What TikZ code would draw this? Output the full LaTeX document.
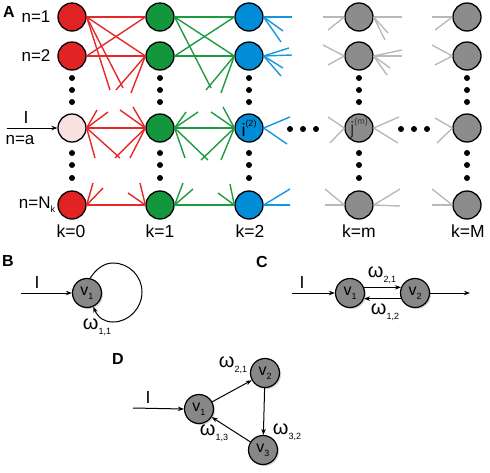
\documentclass[tikz,border=0pt]{standalone}
\usepackage{fontspec}
\setmainfont{Liberation Sans}
\usetikzlibrary{arrows.meta,shadows}
\definecolor{redfill}{RGB}{225,35,35}
\definecolor{greenfill}{RGB}{20,150,60}
\definecolor{bluefill}{RGB}{0,140,215}
\definecolor{pinkfill}{RGB}{250,225,225}
\definecolor{grayfill}{RGB}{140,140,140}
\definecolor{redline}{RGB}{230,40,40}
\definecolor{greenline}{RGB}{30,155,65}
\definecolor{blueline}{RGB}{20,150,225}
\definecolor{grayline}{RGB}{185,185,185}
\definecolor{vgray}{RGB}{135,135,135}
\newcommand\mysub[1]{\raisebox{-0.45ex}{\fontsize{9}{10}\selectfont #1}}
\newcommand\mysup[1]{\raisebox{1.0ex}{\fontsize{9}{10}\selectfont #1}}
\begin{document}
\begin{tikzpicture}[x=1pt,y=-1pt,
  nd/.style={circle,draw=black,line width=1.3pt,minimum size=28pt,inner sep=0pt},
  rn/.style={nd,fill=redfill},
  gn/.style={nd,fill=greenfill},
  bn/.style={nd,fill=bluefill},
  pn/.style={nd,fill=pinkfill},
  mn/.style={nd,fill=grayfill},
  dotc/.style={circle,fill=black,inner sep=0pt,minimum size=6pt},
  lbl/.style={font=\fontsize{17}{20}\selectfont,inner sep=0pt},
  klbl/.style={font=\fontsize{17.5}{20}\selectfont,inner sep=0pt},
  panel/.style={font=\fontsize{16}{18}\selectfont\bfseries,inner sep=0pt},
  vnode/.style={circle,draw=black,line width=1.2pt,fill=vgray,minimum size=29pt,inner sep=0pt,
     drop shadow={opacity=0.35,shadow xshift=1.5pt,shadow yshift=-1.5pt},font=\fontsize{16}{18}\selectfont},
  arr/.style={-{Stealth[length=6pt,width=4.5pt]},line width=1pt},
  om/.style={font=\fontsize{20}{22}\selectfont,inner sep=0pt},
  rl/.style={draw=redline,line width=1.4pt},
  gl/.style={draw=greenline,line width=1.4pt},
  bl/.style={draw=blueline,line width=1.4pt},
  ml/.style={draw=grayline,line width=1.4pt}
]
\useasboundingbox (0,0) rectangle (490,472);

% ---------- Panel A nodes ----------
\node[rn] (r1) at (72,17) {};
\node[rn] (r2) at (72,56) {};
\node[pn] (ra) at (72,128) {};
\node[rn] (rN) at (72,205) {};
\node[gn] (g1) at (160,17) {};
\node[gn] (g2) at (160,56) {};
\node[gn] (ga) at (160,128) {};
\node[gn] (gN) at (160,205) {};
\node[bn] (b1) at (249,17) {};
\node[bn] (b2) at (249,56) {};
\node[bn,font=\fontsize{18}{20}\selectfont] (ba) at (249,128) {i\mysup{(2)}};
\node[bn] (bN) at (249,205) {};
\node[mn] (m1) at (359,17) {};
\node[mn] (m2) at (359,56) {};
\node[mn,font=\fontsize{18}{20}\selectfont,text=black!80] (ma) at (359,128) {j\mysup{(m)}};
\node[mn] (mN) at (359,205) {};
\node[mn] (M1) at (467,17) {};
\node[mn] (M2) at (467,56) {};
\node[mn] (Ma) at (467,128) {};
\node[mn] (MN) at (467,205) {};

% vertical dots
\foreach \cx in {72,160,249,359,467}{
  \foreach \cy in {78,90,102,153,165,178}{
    \node[dotc] at (\cx,\cy) {};
  }
}
% horizontal dots
\foreach \cx in {290,303,316,401,414,427}{
  \node[dotc] at (\cx,129) {};
}

% ---------- red edges ----------
\draw[rl] (r1.east) -- (g1.west);
\draw[rl] (r1.east) -- (g2.west);
\draw[rl] (r2.east) -- (g1.west);
\draw[rl] (r2.east) -- (g2.west);
\draw[rl] (r1.east) -- (110,90);
\draw[rl] (r1.east) -- (123,88);
\draw[rl] (g2.west) -- (116,90);
\draw[rl] (g2.west) -- (131,93);
\draw[rl] (ra.east) -- (ga.west);
\draw[rl] (ra.east) -- (97,110);
\draw[rl] (ra.east) -- (108,112);
\draw[rl] (ra.east) -- (95,158);
\draw[rl] (ra.east) -- (120,158);
\draw[rl] (ga.west) -- (120,110);
\draw[rl] (ga.west) -- (133,107);
\draw[rl] (ga.west) -- (115,158);
\draw[rl] (ga.west) -- (130,158);
\draw[rl] (rN.east) -- (gN.west);
\draw[rl] (rN.east) -- (93,183);
\draw[rl] (rN.east) -- (103,188);
\draw[rl] (gN.west) -- (128,193);
\draw[rl] (gN.west) -- (140,183);

% ---------- green edges ----------
\draw[gl] (g1.east) -- (b1.west);
\draw[gl] (g1.east) -- (b2.west);
\draw[gl] (g2.east) -- (b1.west);
\draw[gl] (g2.east) -- (b2.west);
\draw[gl] (g1.east) -- (211,88);
\draw[gl] (b2.west) -- (206,90);
\draw[gl] (b2.west) -- (221,93);
\draw[gl] (ga.east) -- (ba.west);
\draw[gl] (ga.east) -- (186,112);
\draw[gl] (ga.east) -- (198,112);
\draw[gl] (ga.east) -- (185,158);
\draw[gl] (ga.east) -- (208,160);
\draw[gl] (ba.west) -- (211,112);
\draw[gl] (ba.west) -- (223,107);
\draw[gl] (ba.west) -- (201,160);
\draw[gl] (ba.west) -- (221,160);
\draw[gl] (gN.east) -- (bN.west);
\draw[gl] (gN.east) -- (183,183);
\draw[gl] (gN.east) -- (193,189);
\draw[gl] (bN.west) -- (218,193);
\draw[gl] (bN.west) -- (230,184);

% ---------- blue stubs ----------
\draw[bl] (b1.east) -- (292,17);
\draw[bl] (b1.east) -- (283,31);
\draw[bl] (b1.east) -- (281,42);
\draw[bl] (b2.east) -- (289,48);
\draw[bl] (b2.east) -- (292,55);
\draw[bl] (b2.east) -- (283,68);
\draw[bl] (b2.east) -- (281,76);
\draw[bl] (ba.east) -- (290,117);
\draw[bl] (ba.east) -- (287,144);
\draw[bl] (bN.east) -- (290,189);
\draw[bl] (bN.east) -- (290,205);

% ---------- gray stubs ----------
\draw[ml] (m1.west) -- (323,17);
\draw[ml] (m1.west) -- (328,30);
\draw[ml] (m2.west) -- (323,45);
\draw[ml] (m2.west) -- (328,65);
\draw[ml] (ma.west) -- (328,117);
\draw[ml] (ma.west) -- (330,143);
\draw[ml] (mN.west) -- (325,189);
\draw[ml] (mN.west) -- (325,205);
\draw[ml] (m1.east) -- (402,17);
\draw[ml] (m1.east) -- (388,33);
\draw[ml] (m1.east) -- (385,40);
\draw[ml] (m2.east) -- (402,50);
\draw[ml] (m2.east) -- (402,56);
\draw[ml] (m2.east) -- (390,68);
\draw[ml] (m2.east) -- (387,75);
\draw[ml] (ma.east) -- (399,117);
\draw[ml] (ma.east) -- (398,143);
\draw[ml] (mN.east) -- (400,189);
\draw[ml] (mN.east) -- (400,206);
\draw[ml] (M1.west) -- (432,17);
\draw[ml] (M1.west) -- (435,30);
\draw[ml] (M2.west) -- (432,45);
\draw[ml] (M2.west) -- (435,65);
\draw[ml] (Ma.west) -- (435,118);
\draw[ml] (Ma.west) -- (437,143);
\draw[ml] (MN.west) -- (432,189);
\draw[ml] (MN.west) -- (432,205);

% ---------- Panel A labels ----------
\node[panel] (pA) at (9,12) {A};
\node[lbl] (ln1) at (36,17) {n=1};
\node[lbl] (ln2) at (36,56) {n=2};
\node[lbl] (lna) at (20,140) {n=a};
\node[lbl] (lnN) at (37,205) {n=N\mysub{k}};
\node[klbl] (lIA) at (26,117) {I};
\coordinate (inA) at (7,128);
\draw[arr] (inA) -- (ra.west);
\node[klbl] (k0) at (71,231) {k=0};
\node[klbl] (k1) at (160,231) {k=1};
\node[klbl] (k2) at (250,231) {k=2};
\node[klbl] (km) at (359,231) {k=m};
\node[klbl] (kM) at (468,231) {k=M};

% ---------- Panel B ----------
\node[panel] (pB) at (8,261) {B};
\node[vnode] (vb) at (87,293) {v\mysub{1}};
\coordinate (inB) at (21,293);
\draw[arr] (inB) -- (vb.west);
\node[klbl] (lIB) at (37,282) {I};
\draw[arr] (vb.78) .. controls (96,269) and (104,263) .. (113,263)
   .. controls (129,263) and (142,276) .. (142,292)
   .. controls (142,308) and (129,322) .. (113,322)
   .. controls (105,322) and (98,318) .. (vb.-65);
\node[om] (w11) at (97,327) {ω\mysub{1,1}};

% ---------- Panel C ----------
\node[panel] (pC) at (262,262) {C};
\node[vnode] (c1) at (350,293) {v\mysub{1}};
\node[vnode] (c2) at (415,293) {v\mysub{2}};
\coordinate (inC) at (292,293);
\coordinate (outC) at (470,293);
\draw[arr] (inC) -- (c1.west);
\draw[arr] (c2.east) -- (outC);
\draw[arr] (c1.22) -- (c2.158);
\draw[arr] (c2.-158) -- (c1.-22);
\node[klbl] (lIC) at (302,282) {I};
\node[om] (w21c) at (382,275) {ω\mysub{2,1}};
\node[om] (w12c) at (385,312) {ω\mysub{1,2}};

% ---------- Panel D ----------
\node[panel] (pD) at (118,359) {D};
\node[vnode] (d1) at (199,409) {v\mysub{1}};
\node[vnode] (d2) at (265,373) {v\mysub{2}};
\node[vnode] (d3) at (263,450) {v\mysub{3}};
\coordinate (inD) at (133,408);
\draw[arr] (inD) -- (d1.west);
\draw[arr] (d1) -- (d2);
\draw[arr] (d2) -- (d3);
\draw[arr] (d3) -- (d1);
\node[klbl] (lID) at (148,397) {I};
\node[om] (w21d) at (233,365) {ω\mysub{2,1}};
\node[om] (w32d) at (287,432) {ω\mysub{3,2}};
\node[om] (w13d) at (214,433) {ω\mysub{1,3}};
\end{tikzpicture}
\end{document}
